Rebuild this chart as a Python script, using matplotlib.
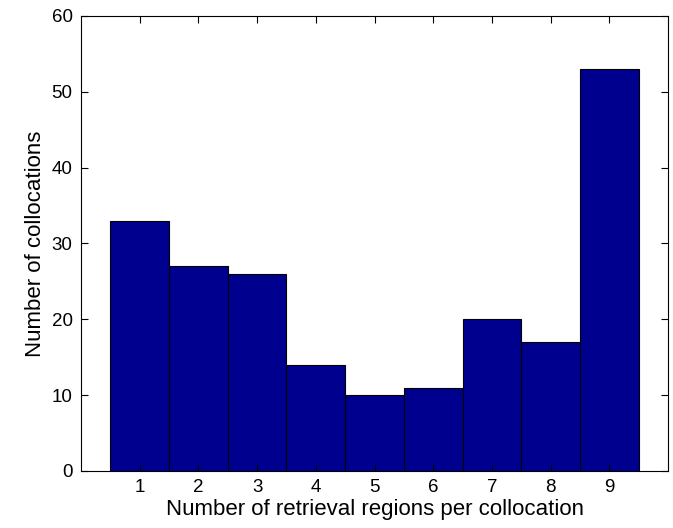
import numpy as np
from matplotlib import pyplot as plt

plt.rcParams['font.family'] = ['Liberation Sans', 'DejaVu Sans']

# counts per number of retrieval regions
regions = [1, 2, 3, 4, 5, 6, 7, 8, 9]
counts = [33, 27, 26, 14, 10, 11, 20, 17, 53]

fig = plt.figure(figsize=(6.73, 5.28), dpi=100)
ax = fig.add_axes([0.1204, 0.108, 0.8722, 0.8617])

ax.bar(regions, counts, width=1.0, color=(0, 0, 0.56), edgecolor='black', linewidth=0.8)

ax.set_xlim(0, 10)
ax.set_ylim(0, 60)
ax.set_xticks(regions)
ax.set_yticks(np.arange(0, 61, 10))
ax.tick_params(direction='in', top=True, right=True, labelsize=13.5, length=5, pad=6)
for s in ax.spines.values():
    s.set_linewidth(0.8)

ax.set_xlabel("Number of retrieval regions per collocation", fontsize=16, labelpad=2)
ax.set_ylabel("Number of collocations", fontsize=16, labelpad=4)

fig.savefig("out.png", dpi=100)
